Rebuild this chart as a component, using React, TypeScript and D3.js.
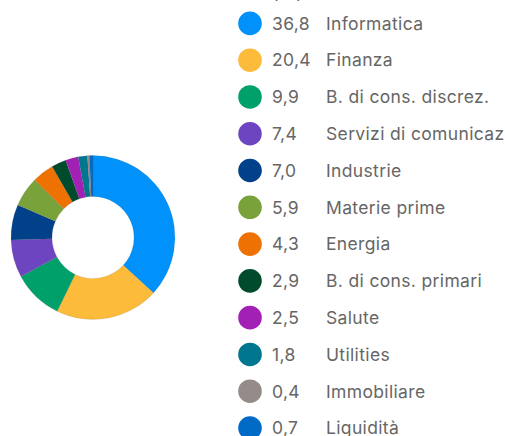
import { useEffect, useRef } from 'react';
import * as d3 from 'd3';

const categories = [
  'Informatica',
  'Finanza',
  'B. di cons. discrez.',
  'Servizi di comunicaz',
  'Industrie',
  'Materie prime',
  'Energia',
  'B. di cons. primari',
  'Salute',
  'Utilities',
  'Immobiliare',
  'Liquidità',
];
const weights = [36.8, 20.4, 9.9, 7.4, 7.0, 5.9, 4.3, 2.9, 2.5, 1.8, 0.4, 0.7];
const colors = [
  '#0091fa',
  '#fdbb3b',
  '#00a06b',
  '#6e45c0',
  '#00418a',
  '#7aa23a',
  '#ee7203',
  '#004b2d',
  '#a221b4',
  '#00778f',
  '#958b89',
  '#006bc6',
];
const unitLabel = '(%)';

export default function App() {
  const svgRef = useRef<SVGSVGElement | null>(null);

  useEffect(() => {
    document.body.style.margin = '0';
    if (!svgRef.current) return;

    const width = 505;
    const height = 436;
    const svg = d3.select(svgRef.current).attr('width', width).attr('height', height);
    svg.selectAll('*').remove();

    // Donut
    const cx = 93;
    const cy = 237.5;
    const pie = d3
      .pie<number>()
      .sort(null)
      .value((d) => d);
    const arc = d3.arc<d3.PieArcDatum<number>>().innerRadius(41).outerRadius(82);

    const donut = svg.append('g').attr('transform', `translate(${cx},${cy})`);
    donut
      .selectAll('path')
      .data(pie(weights))
      .enter()
      .append('path')
      .attr('d', arc)
      .attr('fill', (_, i) => colors[i])
      .attr('stroke', 'rgba(90,90,90,0.25)')
      .attr('stroke-width', 0.5);

    // Legend
    const y = d3
      .scalePoint<string>()
      .domain(categories)
      .range([23.4, 428])
      .padding(0);

    const font = 'Inter, "Noto Sans", sans-serif';
    const textStyle = (sel: d3.Selection<any, any, any, any>) =>
      sel
        .attr('font-family', font)
        .attr('font-size', 17.5)
        .attr('letter-spacing', 0.35)
        .attr('fill', '#666');

    svg
      .append('text')
      .attr('x', 272)
      .attr('y', -1.5)
      .call(textStyle)
      .text(unitLabel);

    const rows = svg
      .append('g')
      .selectAll('g')
      .data(categories)
      .enter()
      .append('g')
      .attr('transform', (d) => `translate(0,${y(d)})`);

    rows
      .append('circle')
      .attr('cx', 250)
      .attr('cy', 0)
      .attr('r', 11.8)
      .attr('fill', (_, i) => colors[i]);

    rows
      .append('text')
      .attr('x', 272)
      .attr('dy', '0.36em')
      .call(textStyle)
      .text((_, i) => d3.format('.1f')(weights[i]).replace('.', ','));

    rows
      .append('text')
      .attr('x', 326)
      .attr('dy', '0.36em')
      .call(textStyle)
      .text((d) => d);
  }, []);

  return <svg ref={svgRef} style={{ display: 'block' }} />;
}
